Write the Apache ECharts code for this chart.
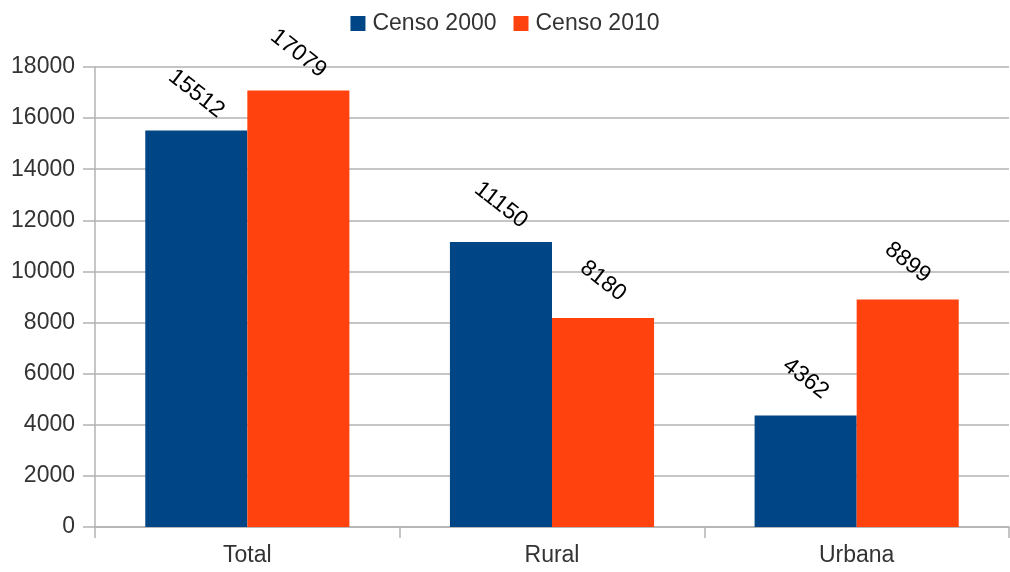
<!DOCTYPE html>
<html><head><meta charset="utf-8">
<script src="https://cdn.jsdelivr.net/npm/echarts@6/dist/echarts.min.js"></script>
<style>html,body{margin:0;padding:0;background:#fff}#c{width:1010px;height:572px}</style>
</head><body><div id="c"></div>
<script>
const categories = ['Total', 'Rural', 'Urbana'];
const seriesNames = ['Censo 2000', 'Censo 2010'];
const censo2000 = [15512, 11150, 4362];
const censo2010 = [17079, 8180, 8899];
const yTicks = [0, 2000, 4000, 6000, 8000, 10000, 12000, 14000, 16000, 18000];

const chart = echarts.init(document.getElementById('c'));
const font = '"Liberation Sans", Arial, sans-serif';
const labelCfg = {
  show: true, position: 'top', distance: 37, rotate: -38,
  align: 'center', verticalAlign: 'middle',
  color: '#000', fontSize: 23, fontFamily: font
};
chart.setOption({
  animation: false,
  textStyle: { fontFamily: font },
  legend: {
    data: seriesNames, top: 7, left: 'center', itemWidth: 15, itemHeight: 15, itemGap: 17,
    icon: 'rect',
    textStyle: { fontSize: 23, color: '#333', fontFamily: font, padding: [0, 0, 0, 2] }
  },
  grid: { left: 95, right: 1, top: 67, bottom: 45, containLabel: false },
  xAxis: {
    type: 'category', data: categories,
    axisLine: { lineStyle: { color: '#b3b3b3', width: 1.5 } },
    axisTick: { show: true, length: 11, lineStyle: { color: '#b3b3b3', width: 1.5 } },
    axisLabel: { fontSize: 23, color: '#333', margin: 17, fontFamily: font }
  },
  yAxis: {
    type: 'value', min: yTicks[0], max: yTicks[yTicks.length - 1], interval: 2000,
    axisLine: { show: true, lineStyle: { color: '#b3b3b3', width: 1.5 } },
    axisTick: { show: true, length: 12, lineStyle: { color: '#b3b3b3', width: 1.5 } },
    splitLine: { lineStyle: { color: '#b3b3b3', width: 1.5 } },
    axisLabel: { fontSize: 23, color: '#333', margin: 20, fontFamily: font,
      formatter: v => String(v) }
  },
  series: [
    { name: seriesNames[0], type: 'bar', data: censo2000, barGap: '0%', barCategoryGap: '33%',
      itemStyle: { color: '#004586' }, label: labelCfg },
    { name: seriesNames[1], type: 'bar', data: censo2010, barGap: '0%', barCategoryGap: '33%',
      itemStyle: { color: '#ff420e' }, label: labelCfg }
  ]
});
</script></body></html>
